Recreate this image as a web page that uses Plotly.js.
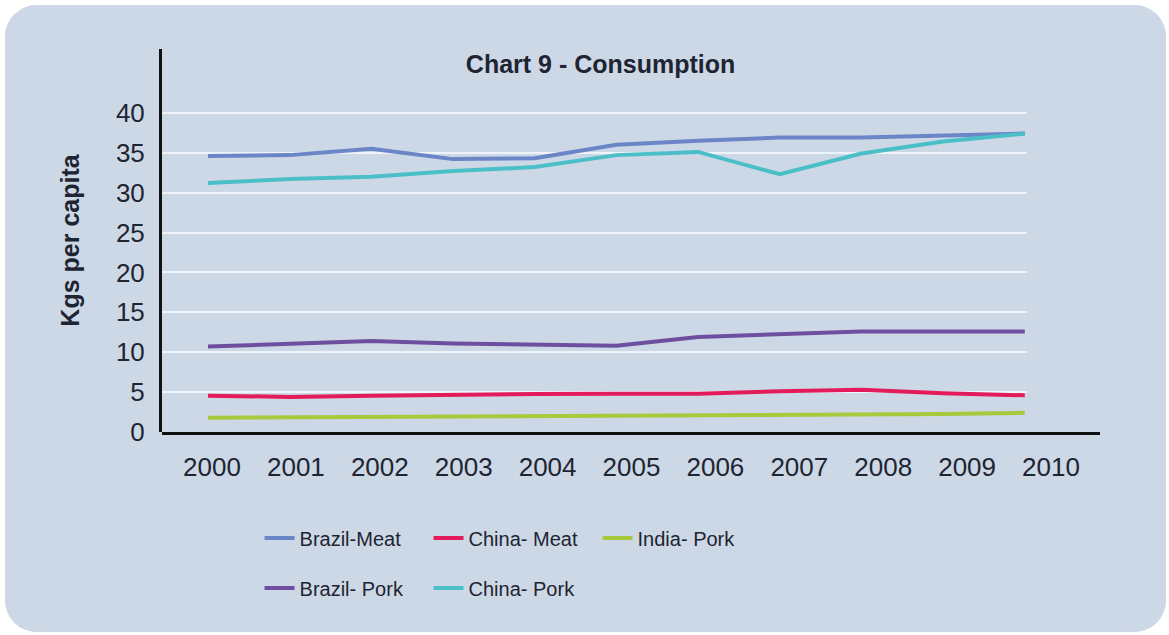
<!DOCTYPE html>
<html>
<head>
<meta charset="utf-8">
<script src="https://cdn.plot.ly/plotly-3.0.1.min.js"></script>
<style>
  html, body { margin: 0; padding: 0; background: #ffffff; }
  #panel {
    position: absolute; left: 5px; top: 5px; width: 1161px; height: 627px;
    border-radius: 32px; overflow: hidden; background: #cdd8e6;
  }
</style>
</head>
<body>
<div id="panel"><div id="chart"></div></div>
<script>
// ---- data ----
const years = [2000, 2001, 2002, 2003, 2004, 2005, 2006, 2007, 2008, 2009, 2010];
const brazilMeat = [34.6, 34.7, 35.5, 34.2, 34.3, 36.0, 36.5, 36.9, 36.9, 37.2, 37.4];
const chinaMeat  = [4.55, 4.4, 4.55, 4.7, 4.75, 4.8, 4.8, 5.1, 5.3, 4.85, 4.6];
const indiaPork  = [1.8, 1.85, 1.8, 1.9, 2.0, 2.05, 2.1, 2.1, 2.15, 2.25, 2.4];
const brazilPork = [10.7, 11.1, 11.4, 11.1, 10.9, 10.8, 11.9, 12.2, 12.6, 12.6, 12.6];
const chinaPork  = [31.2, 31.7, 32.0, 32.7, 33.2, 34.7, 35.1, 32.3, 34.9, 36.4, 37.4];
const yTicks = [0, 5, 10, 15, 20, 25, 30, 35, 40];
const yearLabels = years.map(String);

const FONT = 'Liberation Sans, Arial, sans-serif';
const TXT = '#1e2432';

function tr(name, vals, color, legend) {
  return {
    type: 'scatter', mode: 'lines', x: years, y: vals, name: name,
    line: { color: color, width: 4 }, legend: legend,
    xaxis: 'x', yaxis: 'y', hoverinfo: 'skip'
  };
}

const data = [
  tr('Brazil-Meat', brazilMeat, '#6b86c6', 'legend'),
  tr('China- Meat', chinaMeat, '#e31b5a', 'legend'),
  tr('India- Pork', indiaPork, '#a8c93c', 'legend'),
  tr('Brazil- Pork', brazilPork, '#6e4e9e', 'legend2'),
  tr('China- Pork', chinaPork, '#4bbfc7', 'legend2'),
  // invisible carrier so the label axis (x2) gets drawn
  { type: 'scatter', mode: 'lines', x: years, y: indiaPork, xaxis: 'x2', yaxis: 'y2',
    opacity: 0, showlegend: false, hoverinfo: 'skip', line: { width: 0 } }
];

const legendCommon = {
  orientation: 'h', xanchor: 'left', yanchor: 'middle',
  bgcolor: 'rgba(0,0,0,0)', font: { family: FONT, size: 20, color: TXT },
  entrywidth: 124, entrywidthmode: 'pixels', traceorder: 'normal'
};

const layout = {
  width: 1161, height: 627,
  paper_bgcolor: '#cdd8e6', plot_bgcolor: 'rgba(0,0,0,0)',
  margin: { l: 157, r: 66, t: 44, b: 200 },
  showlegend: true,
  title: {
    text: 'Chart 9 - Consumption',
    font: { family: FONT, size: 25, color: TXT, weight: 'bold' },
    xref: 'container', yref: 'container',
    x: 0.513, y: 1 - 59 / 627, xanchor: 'center', yanchor: 'middle'
  },
  xaxis: {
    type: 'linear', domain: [0, 0.922], range: [1999.437, 2010.025],
    showgrid: false, zeroline: false, showline: false, showticklabels: false,
    anchor: 'y'
  },
  yaxis: {
    domain: [0, 1], range: [0, 48], anchor: 'x',
    tickmode: 'array', tickvals: yTicks, ticktext: yTicks.map(String),
    showgrid: true, gridcolor: '#eef3fa', gridwidth: 2,
    zeroline: false, showline: true, linecolor: '#111111', linewidth: 3,
    ticks: '', ticklabelstandoff: 9,
    tickfont: { family: FONT, size: 26, color: TXT },
    title: {
      text: 'Kgs per capita', standoff: 30,
      font: { family: FONT, size: 25, color: TXT, weight: 'bold' }
    }
  },
  xaxis2: {
    type: 'linear', domain: [0, 1], range: [1999.404, 2010.584], anchor: 'y2',
    tickmode: 'array', tickvals: years, ticktext: yearLabels,
    showgrid: false, zeroline: false, showline: true, linecolor: '#111111', linewidth: 3,
    ticks: '', ticklabelstandoff: 10,
    tickfont: { family: FONT, size: 26, color: TXT }
  },
  yaxis2: {
    domain: [0, 1], range: [0, 48], anchor: 'x2', visible: false,
    showgrid: false, zeroline: false
  },
  legend: Object.assign({}, legendCommon, { x: 0.104, y: -0.277 }),
  legend2: Object.assign({}, legendCommon, { x: 0.104, y: -0.407 })
};

Plotly.newPlot('chart', data, layout, { displayModeBar: false, staticPlot: true });
</script>
</body>
</html>
